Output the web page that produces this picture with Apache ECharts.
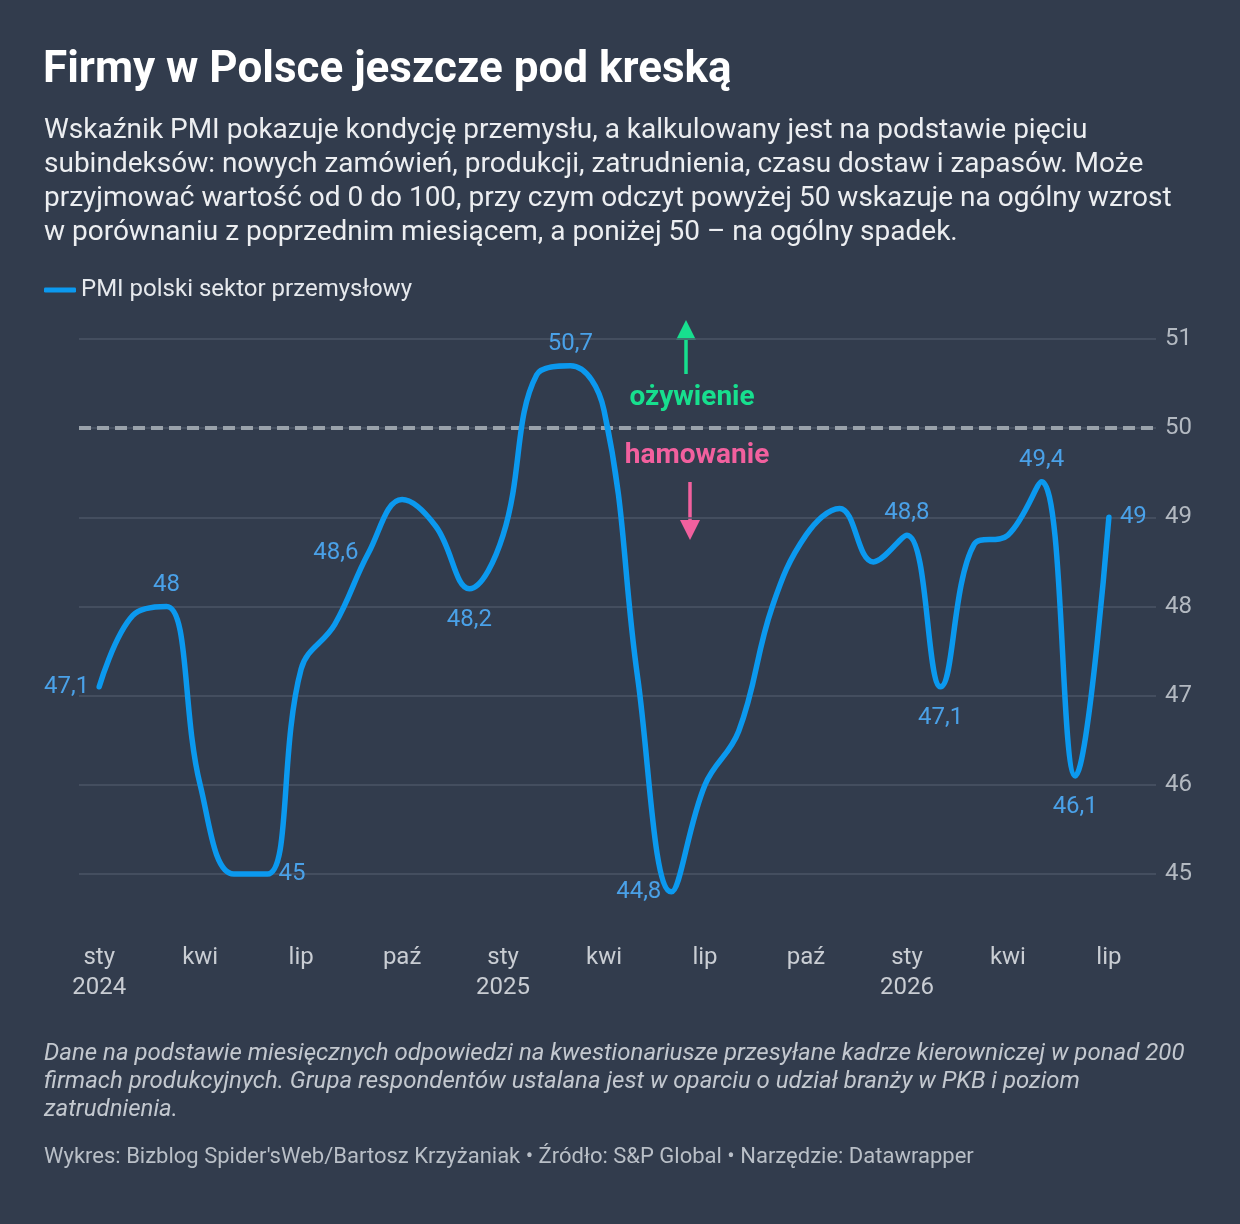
<!DOCTYPE html>
<html lang="pl">
  <head>
    <meta charset="UTF-8" />
    <title>PMI Polska</title>
    <style>
      html,
      body {
        margin: 0;
        padding: 0;
        background: #323c4d;
      }
      #chart {
        width: 1240px;
        height: 1224px;
      }
    </style>
    <script src="https://cdn.jsdelivr.net/npm/echarts@6/dist/echarts.min.js"></script>
  </head>
  <body>
    <div id="chart"></div>
    <script>
      // miesiące sty 2024 - lip 2026
      const monthNames = ["sty", "lut", "mar", "kwi", "maj", "cze", "lip", "sie", "wrz", "paź", "lis", "gru"];
      const startYear = 2024;
      const pmiValues = [
        47.1, 47.9, 48.0, 46.0, 45.0, 45.0, 47.3, 47.8, 48.6, 49.2, 48.9, 48.2,
        48.8, 50.6, 50.7, 50.2, 47.2, 44.8, 46.0, 46.6, 48.0, 48.8, 49.1, 48.5,
        48.8, 47.1, 48.7, 48.8, 49.4, 46.1, 49.0
      ];
      const xTickMonths = [0, 3, 6, 9, 12, 15, 18, 21, 24, 27, 30];
      const yTicks = [45, 46, 47, 48, 49, 50, 51];
      const threshold = 50;

      // które punkty mają etykietę i gdzie
      const labelPos = {
        0: "left", 2: "top", 5: "right", 8: "left", 11: "bottom", 14: "top",
        17: "left", 24: "top", 25: "bottom", 28: "top", 29: "bottom", 30: "right"
      };
      const labelGap = { left: 10, right: 11, top: 10, bottom: 19 };

      const fmt = (v) => String(v).replace(".", ",");

      const seriesData = pmiValues.map((v, i) => {
        const pos = labelPos[i];
        return {
          value: [i, v],
          label: pos
            ? { show: true, position: pos, distance: labelGap[pos], formatter: () => fmt(v) }
            : { show: false },
        };
      });

      const chart = echarts.init(document.getElementById("chart"));
      const FONT = "Roboto, 'Noto Sans', sans-serif";

      const option = {
        backgroundColor: "#323c4d",
        animation: false,
        textStyle: { fontFamily: FONT },
        title: [
          {
            text: "Firmy w Polsce jeszcze pod kreską",
            left: 43,
            top: 49,
            padding: 0,
            textStyle: { color: "#ffffff", fontSize: 44, fontWeight: "bold", fontFamily: FONT },
          },
          {
            text:
              "Wskaźnik PMI pokazuje kondycję przemysłu, a kalkulowany jest na podstawie pięciu\n" +
              "subindeksów: nowych zamówień, produkcji, zatrudnienia, czasu dostaw i zapasów. Może\n" +
              "przyjmować wartość od 0 do 100, przy czym odczyt powyżej 50 wskazuje na ogólny wzrost\n" +
              "w porównaniu z poprzednim miesiącem, a poniżej 50 – na ogólny spadek.",
            left: 44,
            top: 114,
            padding: 0,
            textStyle: { color: "#eceef1", fontSize: 28, fontWeight: "normal", lineHeight: 34, fontFamily: FONT },
          },
          {
            text:
              "Dane na podstawie miesięcznych odpowiedzi na kwestionariusze przesyłane kadrze kierowniczej w ponad 200\n" +
              "firmach produkcyjnych. Grupa respondentów ustalana jest w oparciu o udział branży w PKB i poziom\n" +
              "zatrudnienia.",
            left: 44,
            top: 1040,
            padding: 0,
            textStyle: { color: "#c3c8cf", fontSize: 24, fontStyle: "italic", fontWeight: "normal", lineHeight: 28, fontFamily: FONT },
          },
          {
            text: "Wykres: Bizblog Spider'sWeb/Bartosz Krzyżaniak • Źródło: S&P Global • Narzędzie: Datawrapper",
            left: 44,
            top: 1146,
            padding: 0,
            textStyle: { color: "#b9bfc7", fontSize: 22, fontWeight: "normal", fontFamily: FONT },
          },
        ],
        legend: {
          left: 39,
          top: 273,
          icon: "roundRect",
          itemWidth: 32,
          itemHeight: 5,
          itemGap: 8,
          textStyle: { color: "#e6e9ed", fontSize: 24, fontFamily: FONT },
          data: ["PMI polski sektor przemysłowy"],
        },
        grid: { left: 79, right: 84, top: 339, bottom: 350, containLabel: false },
        xAxis: {
          type: "value",
          min: -0.6,
          max: 31.4,
          axisLine: { show: false },
          axisTick: { show: false, customValues: xTickMonths },
          splitLine: { show: false },
          axisLabel: {
            customValues: xTickMonths,
            margin: 69,
            color: "#c9cdd3",
            fontSize: 24,
            lineHeight: 30,
            fontFamily: FONT,
            formatter: (v) => {
              const i = Math.round(v);
              const m = monthNames[i % 12];
              return i % 12 === 0 ? m + "\n" + (startYear + i / 12) : m;
            },
          },
        },
        yAxis: {
          type: "value",
          position: "right",
          min: 45,
          max: 51,
          interval: 1,
          axisLine: { show: false },
          axisTick: { show: false },
          splitLine: { lineStyle: { color: "#4b5566", width: 1.5 } },
          axisLabel: {
            margin: 9,
            align: "left",
            color: "#b3b9c1",
            fontSize: 24,
            padding: [4, 0, 0, 0],
            fontFamily: FONT,
            customValues: yTicks,
          },
        },
        series: [
          {
            name: "PMI polski sektor przemysłowy",
            type: "line",
            data: seriesData,
            clip: false,
            smooth: 0.4,
            showSymbol: true,
            symbol: "circle",
            symbolSize: 0,
            color: "#0b99ef",
            lineStyle: { color: "#0b99ef", width: 5.5, cap: "round", join: "round" },
            label: { color: "#4aa1e8", fontSize: 24, fontFamily: FONT },
            labelLayout: { hideOverlap: false },
            z: 5,
            markLine: {
              silent: true,
              symbol: "none",
              label: { show: false },
              z: 1,
              lineStyle: { color: "#9aa2ab", width: 4, type: [12, 6] },
              data: [{ yAxis: threshold }],
            },
          },
        ],
        graphic: [
          // strzałka w górę - ożywienie
          { type: "line", shape: { x1: 686, y1: 374, x2: 686, y2: 334 }, style: { stroke: "#17df8e", lineWidth: 3.5 } },
          { type: "polygon", shape: { points: [[686, 320], [676, 340], [696, 340]] }, style: { fill: "#17df8e" } },
          {
            type: "text",
            x: 692,
            y: 398,
            style: {
              text: "ożywienie",
              fill: "#17df8e",
              font: "bold 28px " + FONT,
              align: "center",
              verticalAlign: "middle",
            },
          },
          {
            type: "text",
            x: 697,
            y: 456,
            style: {
              text: "hamowanie",
              fill: "#f2609e",
              font: "bold 28px " + FONT,
              align: "center",
              verticalAlign: "middle",
            },
          },
          // strzałka w dół - hamowanie
          { type: "line", shape: { x1: 690, y1: 482, x2: 690, y2: 524 }, style: { stroke: "#f2609e", lineWidth: 3.5 } },
          { type: "polygon", shape: { points: [[690, 540], [680, 520], [700, 520]] }, style: { fill: "#f2609e" } },
        ],
      };

      chart.setOption(option);
    </script>
  </body>
</html>
